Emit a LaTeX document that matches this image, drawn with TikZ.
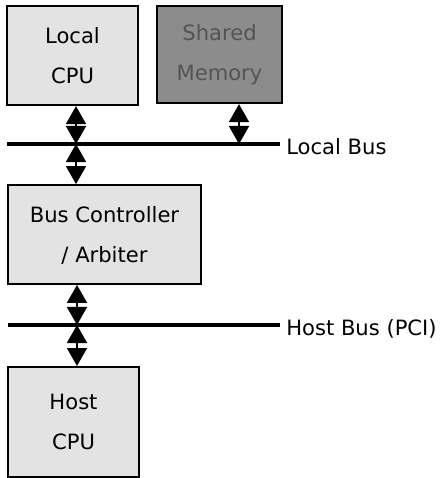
\documentclass[tikz,border=0pt]{standalone}
\usepackage{fontspec}
\setmainfont{DejaVu Sans}
\usetikzlibrary{arrows.meta}
\definecolor{lightbox}{gray}{0.89}
\definecolor{darkbox}{gray}{0.55}
\definecolor{darktext}{gray}{0.33}

\begin{document}
\begin{tikzpicture}[x=0.025cm,y=-0.025cm,
    box/.style={draw,line width=1.4pt,fill=lightbox,inner sep=0pt,align=center,
      font=\fontsize{15}{28}\selectfont},
    bus/.style={line width=2.2pt},
    link/.style={line width=1.2pt,
      {Triangle[width=0.5cm,length=0.45cm]}-{Triangle[width=0.5cm,length=0.45cm]}},
    buslabel/.style={anchor=west,inner sep=0pt,font=\fontsize{15}{18}\selectfont}]
        \useasboundingbox (0,0) rectangle (447,478);

        % boxes
        \node[box,minimum width=3.28cm,minimum height=2.48cm] (lcpu) at (72.5,55.5)
        {Local\\CPU};
        \node[box,fill=darkbox,text=darktext,minimum width=3.13cm,minimum height=2.43cm]
        (smem) at (219.5,54.5) {Shared\\Memory};
        \node[box,minimum width=4.83cm,minimum height=2.47cm,text depth=-0.1cm] (ctrl) at (104.5,234.5)
        {Bus Controller\\/ Arbiter};
        \node[box,minimum width=3.28cm,minimum height=2.75cm] (hcpu) at (73.5,422)
        {Host\\CPU};

        % buses
        \coordinate (lbus-w) at (7,144);
        \coordinate (lbus-e) at (280,144);
        \coordinate (hbus-w) at (8,325);
        \coordinate (hbus-e) at (280,325);
        \draw[bus] (lbus-w) -- (lbus-e);
        \draw[bus] (hbus-w) -- (hbus-e);
        \node[buslabel] (llabel) at (286,147) {Local Bus};
        \node[buslabel] (hlabel) at (286,329) {Host Bus (PCI)};

        % taps on the buses
        \coordinate (lb-cpu) at (76,144);
        \coordinate (lb-mem) at (239,144);
        \coordinate (hb-ctrl) at (77,325);

        \draw[link] (lcpu.south -| lb-cpu) -- (lb-cpu);
        \draw[link] (smem.south -| lb-mem) -- (lb-mem);
        \draw[link] (lb-cpu) -- (ctrl.north -| lb-cpu);
        \draw[link] (ctrl.south -| hb-ctrl) -- (hb-ctrl);
        \draw[link] (hb-ctrl) -- (hcpu.north -| hb-ctrl);
      \end{tikzpicture}
\end{document}
